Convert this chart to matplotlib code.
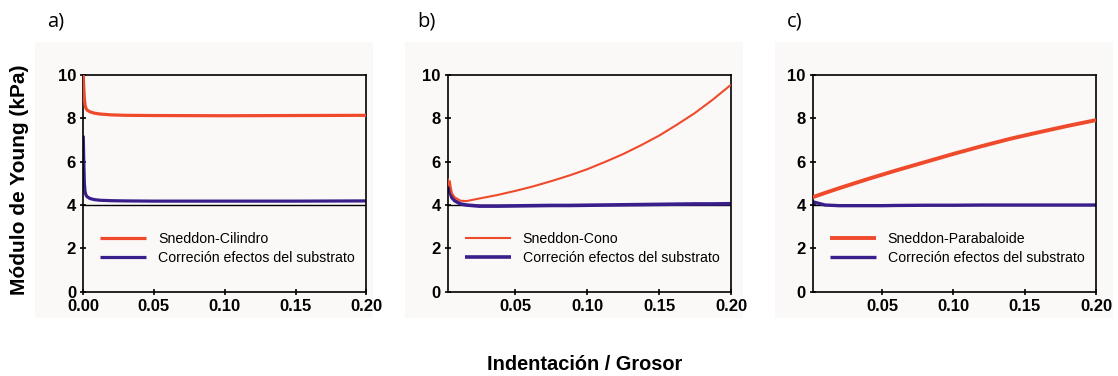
import matplotlib
matplotlib.use("Agg")
import matplotlib.pyplot as plt
from matplotlib.patches import Rectangle

RED = "#EF4A2C"
PURPLE = "#3A1E8C"
BG = "#FAF9F7"

# a) Sneddon-Cilindro
A_X = [0.0002, 0.0006, 0.001, 0.0015, 0.0022, 0.003, 0.005, 0.008, 0.012, 0.02, 0.03, 0.05, 0.10, 0.15, 0.20]
A_RED = [10.0, 9.4, 8.9, 8.6, 8.45, 8.38, 8.3, 8.24, 8.2, 8.16, 8.14, 8.13, 8.12, 8.13, 8.14]
A_PURPLE = [7.2, 6.0, 5.0, 4.6, 4.45, 4.38, 4.3, 4.25, 4.22, 4.2, 4.19, 4.18, 4.18, 4.18, 4.19]

# b) Sneddon-Cono
B_X = [0.003, 0.0035, 0.004, 0.0045, 0.005, 0.006, 0.008, 0.012, 0.016, 0.025, 0.0375, 0.05, 0.0625,
       0.075, 0.0875, 0.10, 0.1125, 0.125, 0.1375, 0.15, 0.1625, 0.175, 0.1875, 0.20]
B_RED = [5.25, 5.0, 4.9, 5.1, 4.9, 4.55, 4.35, 4.2, 4.18, 4.3, 4.46, 4.65, 4.86,
         5.1, 5.36, 5.65, 5.99, 6.35, 6.76, 7.2, 7.71, 8.25, 8.87, 9.55]
B_PURPLE = [5.0, 4.75, 4.7, 4.65, 4.55, 4.35, 4.2, 4.05, 4.0, 3.95, 3.95, 3.96, 3.97,
            3.98, 3.98, 3.99, 4.0, 4.01, 4.02, 4.03, 4.04, 4.05, 4.05, 4.06]

# c) Sneddon-Parabaloide
C_X = [0.0013, 0.01, 0.02, 0.03, 0.04, 0.05, 0.06, 0.08, 0.10, 0.12, 0.14, 0.16, 0.18, 0.20]
C_RED = [4.36, 4.56, 4.78, 4.99, 5.2, 5.4, 5.6, 5.98, 6.36, 6.72, 7.06, 7.36, 7.65, 7.92]
C_PURPLE = [4.15, 4.0, 3.97, 3.97, 3.97, 3.97, 3.98, 3.99, 3.99, 4.0, 4.0, 4.0, 4.0, 4.0]

PANELS = [
    ("a)", A_X, A_RED, A_PURPLE, "Sneddon-Cilindro", (0.0, 0.2), [0.0, 0.05, 0.10, 0.15, 0.20], 2.3, 2.3),
    ("b)", B_X, B_RED, B_PURPLE, "Sneddon-Cono", (0.003, 0.2), [0.05, 0.10, 0.15, 0.20], 1.5, 2.6),
    ("c)", C_X, C_RED, C_PURPLE, "Sneddon-Parabaloide", (0.0013, 0.2), [0.05, 0.10, 0.15, 0.20], 2.8, 2.4),
]
LEFTS = [0.0742, 0.4003, 0.7269]
BG_LEFTS = [35, 405, 775]

plt.rcParams["font.family"] = ["Liberation Sans", "DejaVu Sans"]

W, H = 1118, 376
fig = plt.figure(figsize=(W / 100, H / 100), dpi=100)

for i, (tag, xs, red, purple, name, xlim, xticks, lw_r, lw_p) in enumerate(PANELS):
    fig.patches.append(Rectangle((BG_LEFTS[i] / W, 1 - 318 / H), 338 / W, 276 / H,
                                 transform=fig.transFigure, facecolor=BG, edgecolor="none", zorder=-10))
    ax = fig.add_axes([LEFTS[i], 0.2242, 0.2535, 0.5763])
    ax.set_facecolor("none")
    ax.axhline(4, color="black", lw=1.0, zorder=1)
    ax.plot(xs, red, color=RED, lw=lw_r, label=name, zorder=3, solid_capstyle="butt")
    ax.plot(xs, purple, color=PURPLE, lw=lw_p, label="Correción efectos del substrato", zorder=2,
            solid_capstyle="butt")
    ax.set_xlim(*xlim)
    ax.set_ylim(0, 10)
    ax.set_xticks(xticks)
    ax.set_xticklabels([f"{t:.2f}" for t in xticks])
    ax.set_yticks([0, 2, 4, 6, 8, 10])
    for s in ax.spines.values():
        s.set_linewidth(1.2)
    ax.tick_params(direction="inout", length=5, width=1.2, labelsize=12, pad=2.5)
    for lab in ax.get_xticklabels() + ax.get_yticklabels():
        lab.set_fontweight("bold")
    ax.legend(loc="center left", bbox_to_anchor=(0.06, 0.2), frameon=False, fontsize=10.2,
              handlelength=3.25, handletextpad=0.85, labelspacing=0.4, borderpad=0, borderaxespad=0)
    fig.text((BG_LEFTS[i] + 12) / W, 1 - 21 / H, tag, fontsize=14.5, family=["Open Sans", "DejaVu Sans"],
             ha="left", va="center")

fig.text(20 / W, 1 - 180 / H, "Módulo de Young (kPa)", rotation=90, fontsize=15, fontweight="bold",
         ha="center", va="center")
fig.text(585 / W, 1 - 365 / H, "Indentación / Grosor", fontsize=14.4, fontweight="bold",
         ha="center", va="center")

fig.savefig("out.png", dpi=100, facecolor="white")
